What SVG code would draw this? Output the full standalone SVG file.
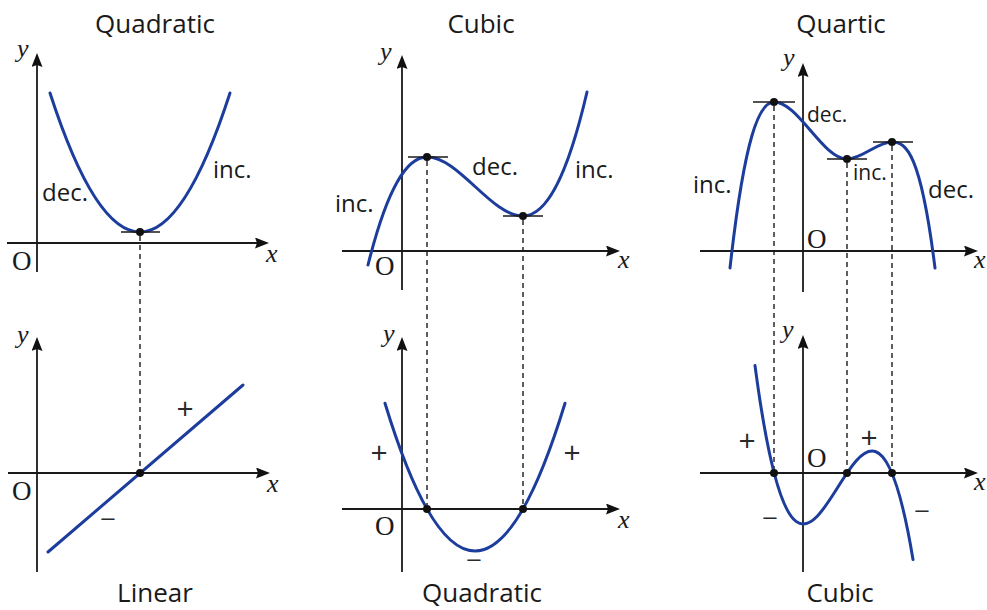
<svg xmlns="http://www.w3.org/2000/svg" width="987" height="610" viewBox="0 0 987 610">
<style>
.bg{fill:#ffffff}
.axis{stroke:#1a1a1a;stroke-width:1.8;fill:none}
.curve{stroke:#1c3d9c;stroke-width:3;fill:none;stroke-linecap:round}
.tan{stroke:#1a1a1a;stroke-width:1.6}
.dash{stroke:#2a2a2a;stroke-width:1.5;stroke-dasharray:5 4;fill:none}
.dot{fill:#111111}
.title{font-family:"Open Sans","Liberation Sans",sans-serif;font-size:26px;fill:#1a1a1a;text-anchor:middle}
.lab{font-family:"Open Sans","Liberation Sans",sans-serif;font-size:24px;fill:#1a1a1a}
.sm{font-family:"Open Sans","Liberation Sans",sans-serif;font-size:21px;fill:#1a1a1a}
.sign{font-family:"Open Sans","Liberation Sans",sans-serif;font-size:30px;fill:#2a2a2a;text-anchor:middle}
.minus{font-family:"Open Sans","Liberation Sans",sans-serif;font-size:22px;fill:#2a2a2a;text-anchor:middle}
.o{font-family:"Liberation Serif",serif;font-size:27px;fill:#1a1a1a}
.var{font-family:"Liberation Serif",serif;font-style:italic;font-size:26px;fill:#1a1a1a}
</style>
<defs>
<marker id="arr" viewBox="0 0 14 11" markerWidth="14" markerHeight="11" refX="8" refY="5.5" orient="auto" markerUnits="userSpaceOnUse">
<path d="M0,0 L14,5.5 L0,11 L2,5.5 z" fill="#111111"/>
</marker>
</defs>
<rect class="bg" x="0" y="0" width="987" height="610"/>

<g id="connectors">
<line class="dash" x1="140" y1="236" x2="140" y2="469"/>
<line class="dash" x1="427" y1="161" x2="427" y2="505"/>
<line class="dash" x1="523" y1="220" x2="523" y2="505"/>
<line class="dash" x1="774" y1="106" x2="774" y2="469"/>
<line class="dash" x1="847" y1="163" x2="847" y2="469"/>
<line class="dash" x1="892" y1="146" x2="892" y2="469"/>
</g>

<g id="top-quadratic">
<text class="title" x="155" y="33">Quadratic</text>
<line class="axis" x1="7" y1="243" x2="263" y2="243" marker-end="url(#arr)"/>
<line class="axis" x1="37" y1="272" x2="37" y2="59" marker-end="url(#arr)"/>
<text class="var" x="17" y="57">y</text>
<text class="var" x="266" y="262">x</text>
<text class="o" x="12" y="270">O</text>
<path class="curve" d="M50,93 Q140,371 230,93"/>
<line class="tan" x1="121" y1="232" x2="160" y2="232"/>
<circle class="dot" cx="140" cy="232" r="4"/>
<text class="lab" x="42" y="201">dec.</text>
<text class="lab" x="213" y="178">inc.</text>
</g>

<g id="top-cubic">
<text class="title" x="481" y="33">Cubic</text>
<line class="axis" x1="342" y1="251" x2="614" y2="251" marker-end="url(#arr)"/>
<line class="axis" x1="402" y1="290" x2="402" y2="61" marker-end="url(#arr)"/>
<text class="var" x="380" y="60">y</text>
<text class="var" x="618" y="268">x</text>
<text class="o" x="375" y="275">O</text>
<path class="curve" d="M368,265 C387.7,186 407.3,157 427,157 C459,157 491,216 523,216 C544.3,216 565.7,183.7 587,92"/>
<line class="tan" x1="408" y1="157" x2="448" y2="157"/>
<line class="tan" x1="503" y1="216" x2="543" y2="216"/>
<circle class="dot" cx="427" cy="157" r="4"/>
<circle class="dot" cx="523" cy="216" r="4"/>
<text class="lab" x="335" y="212">inc.</text>
<text class="lab" x="472" y="175">dec.</text>
<text class="lab" x="575" y="178">inc.</text>
</g>

<g id="top-quartic">
<text class="title" x="841" y="33">Quartic</text>
<line class="axis" x1="700" y1="251" x2="972" y2="251" marker-end="url(#arr)"/>
<line class="axis" x1="803" y1="292" x2="803" y2="69" marker-end="url(#arr)"/>
<text class="var" x="783" y="66">y</text>
<text class="var" x="974" y="268">x</text>
<text class="o" x="807" y="248">O</text>
<path class="curve" d="M730,268 C744.7,136 759.3,102 774,102 C798.3,102 822.7,159 847,159 C862,159 877,142 892,142 C906.3,142 920.7,153 935,268"/>
<line class="tan" x1="753" y1="102" x2="795" y2="102"/>
<line class="tan" x1="827" y1="159" x2="867" y2="159"/>
<line class="tan" x1="873" y1="142" x2="913" y2="142"/>
<circle class="dot" cx="774" cy="102" r="4"/>
<circle class="dot" cx="847" cy="159" r="4"/>
<circle class="dot" cx="892" cy="142" r="4"/>
<text class="sm" x="807" y="122">dec.</text>
<text class="sm" x="853" y="180">inc.</text>
<text class="lab" x="693" y="193">inc.</text>
<text class="lab" x="928" y="198">dec.</text>
</g>

<g id="bottom-linear">
<line class="axis" x1="8" y1="473" x2="264" y2="473" marker-end="url(#arr)"/>
<line class="axis" x1="37" y1="572" x2="37" y2="343" marker-end="url(#arr)"/>
<text class="var" x="17" y="343">y</text>
<text class="var" x="267" y="492">x</text>
<text class="o" x="12" y="500">O</text>
<path class="curve" d="M48,552 L243,385"/>
<circle class="dot" cx="140" cy="473" r="4"/>
<text class="sign" x="185" y="418.5">+</text>
<text class="minus" x="108" y="526.7" textLength="16" lengthAdjust="spacingAndGlyphs">−</text>
<text class="title" x="155" y="602">Linear</text>
</g>

<g id="bottom-quadratic">
<line class="axis" x1="342" y1="509" x2="614" y2="509" marker-end="url(#arr)"/>
<line class="axis" x1="402" y1="572" x2="402" y2="343" marker-end="url(#arr)"/>
<text class="var" x="383" y="342">y</text>
<text class="var" x="618" y="528">x</text>
<text class="o" x="375" y="535">O</text>
<path class="curve" d="M385,403.3 Q475,698.7 565,403.3"/>
<circle class="dot" cx="427" cy="509" r="4"/>
<circle class="dot" cx="523" cy="509" r="4"/>
<text class="sign" x="379" y="462.5">+</text>
<text class="sign" x="572" y="462.5">+</text>
<text class="minus" x="474" y="567.7" textLength="16" lengthAdjust="spacingAndGlyphs">−</text>
<text class="title" x="482" y="602">Quadratic</text>
</g>

<g id="bottom-cubic">
<line class="axis" x1="700" y1="473" x2="972" y2="473" marker-end="url(#arr)"/>
<line class="axis" x1="803" y1="572" x2="803" y2="341" marker-end="url(#arr)"/>
<text class="var" x="782" y="338">y</text>
<text class="var" x="974" y="490">x</text>
<text class="o" x="807" y="467">O</text>
<path class="curve" d="M755,365.5 C807.67,766.4 860.33,240.8 913,559.5"/>
<circle class="dot" cx="774" cy="473" r="4"/>
<circle class="dot" cx="847" cy="473" r="4"/>
<circle class="dot" cx="892" cy="473" r="4"/>
<text class="sign" x="747" y="450.5">+</text>
<text class="sign" x="869" y="447.5">+</text>
<text class="minus" x="770" y="525.7" textLength="16" lengthAdjust="spacingAndGlyphs">−</text>
<text class="minus" x="922" y="518.7" textLength="16" lengthAdjust="spacingAndGlyphs">−</text>
<text class="title" x="840" y="602">Cubic</text>
</g>
</svg>
